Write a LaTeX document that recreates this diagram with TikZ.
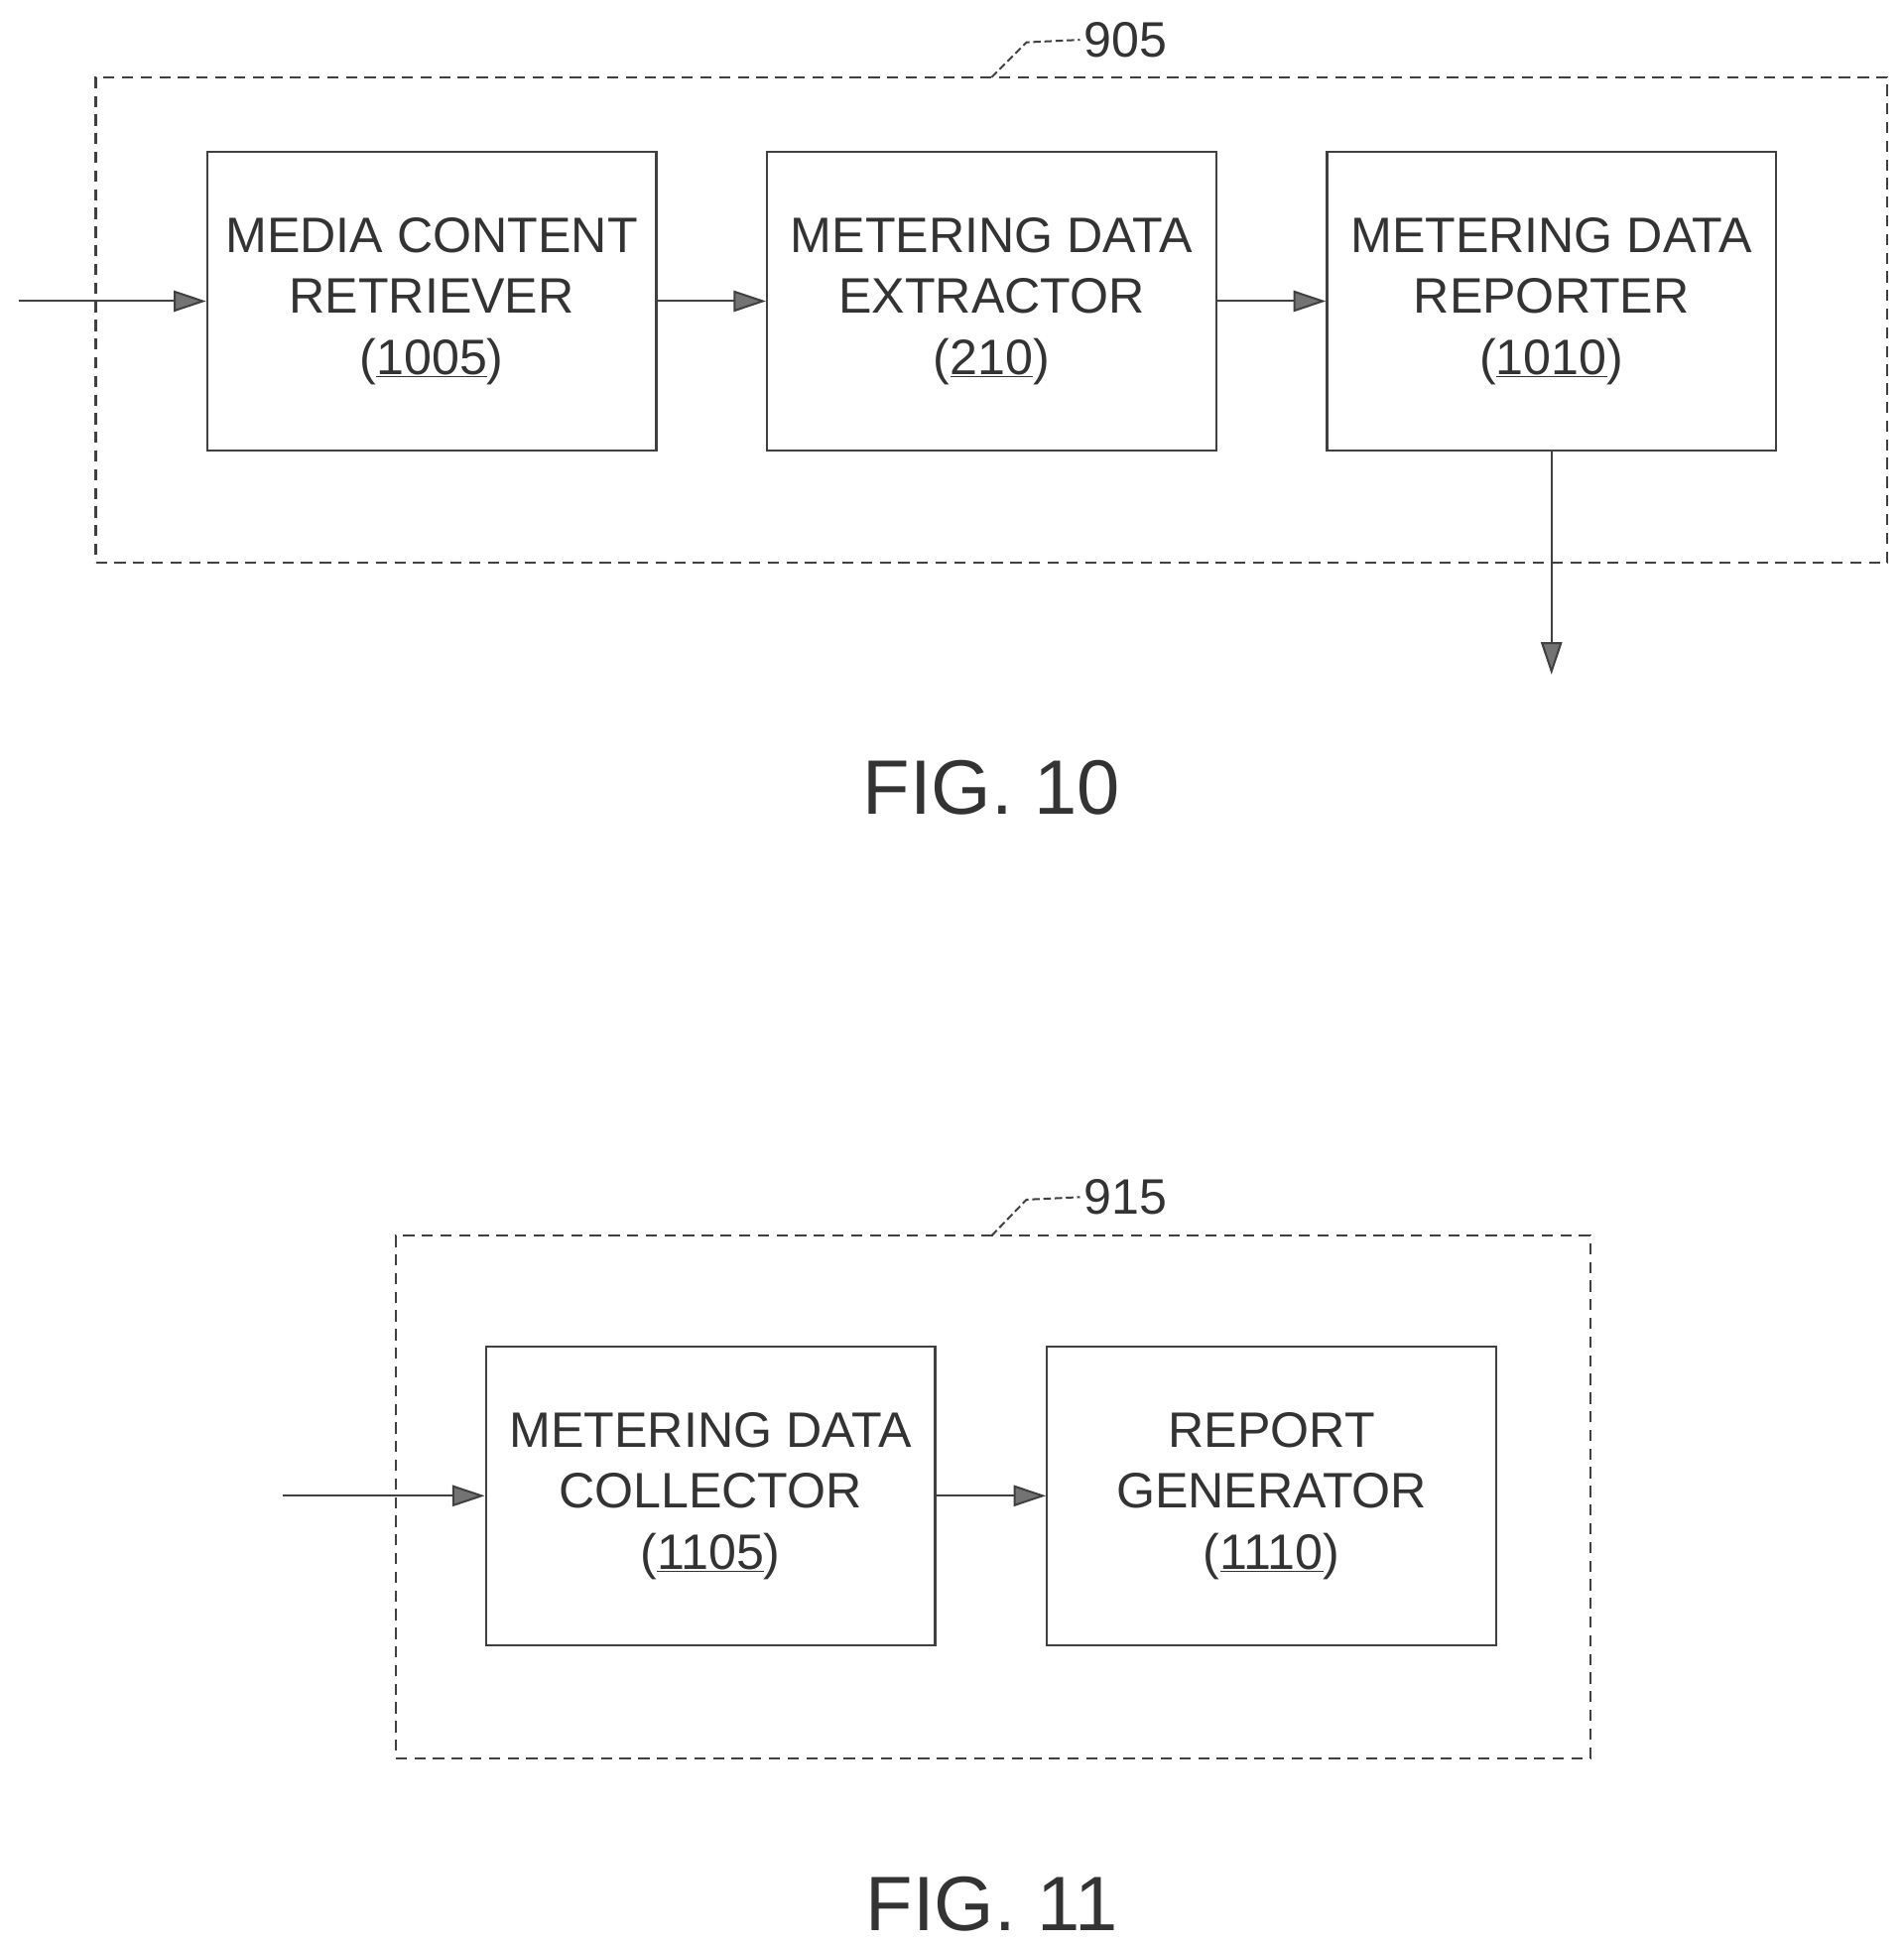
\documentclass[tikz,border=0pt]{standalone}
\usepackage{fontspec}
\setmainfont{Liberation Sans}
\usetikzlibrary{arrows.meta}
\begin{document}
\begin{tikzpicture}[x=1pt,y=-1pt,
  every node/.style={font=\fontsize{40}{49}\selectfont,text=black!80},
  blk/.style={draw=black!75,line width=1.8pt,minimum width=361pt,minimum height=240pt,align=center,inner sep=0pt},
  grp/.style={draw=black!75,line width=1.8pt,dash pattern=on 9pt off 6pt},
  arr/.style={draw=black!75,line width=1.6pt,-{Triangle[length=26pt,width=17pt,fill=black!55]}},
  lead/.style={draw=black!75,line width=1.6pt,dash pattern=on 6pt off 3pt},
  lab/.style={font=\fontsize{40}{48}\selectfont},
  fig/.style={font=\fontsize{62}{70}\selectfont}]
\useasboundingbox (0,0) rectangle (1530,1563);
% FIG 10
\node[grp,minimum width=1440pt,minimum height=390pt,inner sep=0pt] (g1) at (797,257) {};
\node[blk] (a) at (347,242) {MEDIA CONTENT\\RETRIEVER\\(\underline{1005})};
\node[blk] (b) at (797,242) {METERING DATA\\EXTRACTOR\\(\underline{210})};
\node[blk] (c) at (1247,242) {METERING DATA\\REPORTER\\(\underline{1010})};
\coordinate (in1) at (15,242);
\coordinate (out1) at (1247,542);
\draw[arr] (in1) -- (a);
\draw[arr] (a) -- (b);
\draw[arr] (b) -- (c);
\draw[arr] (c) -- (out1);
\node[lab,anchor=west] (l905) at (868,32) {905};
\draw[lead] (797,62) -- (825,34) -- (l905.west);
\node[fig] (f10) at (797,633) {FIG. 10};
% FIG 11
\node[grp,minimum width=960pt,minimum height=420pt,inner sep=0pt] (g2) at (798,1203) {};
\node[blk] (d) at (571,1202) {METERING DATA\\COLLECTOR\\(\underline{1105})};
\node[blk] (e) at (1022,1202) {REPORT\\GENERATOR\\(\underline{1110})};
\coordinate (in2) at (227,1202);
\draw[arr] (in2) -- (d);
\draw[arr] (d) -- (e);
\node[lab,anchor=west] (l915) at (868,962) {915};
\draw[lead] (797,993) -- (825,964) -- (l915.west);
\node[fig] (f11) at (797,1530) {FIG. 11};
\end{tikzpicture}
\end{document}
